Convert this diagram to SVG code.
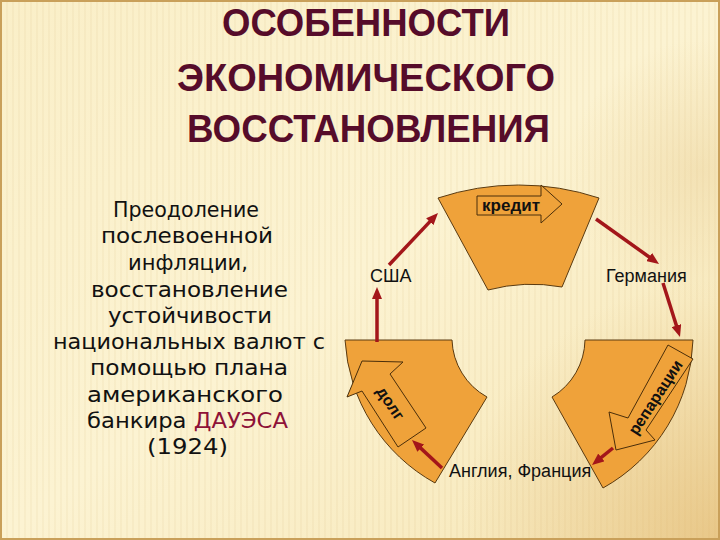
<svg xmlns="http://www.w3.org/2000/svg" width="720" height="540" viewBox="0 0 720 540">
<defs>
<linearGradient id="bg" x1="0" y1="0" x2="1" y2="1">
<stop offset="0" stop-color="#FAEFC8"/>
<stop offset="0.5" stop-color="#FCF3D2"/>
<stop offset="1" stop-color="#F6E6B6"/>
</linearGradient>
<radialGradient id="corner" cx="720" cy="540" r="260" gradientUnits="userSpaceOnUse">
<stop offset="0" stop-color="#DDAE62" stop-opacity="0.55"/>
<stop offset="1" stop-color="#DDAE62" stop-opacity="0"/>
</radialGradient>
<radialGradient id="corner2" cx="700" cy="170" r="130" gradientUnits="userSpaceOnUse">
<stop offset="0" stop-color="#E6C88C" stop-opacity="0.35"/>
<stop offset="1" stop-color="#E6C88C" stop-opacity="0"/>
</radialGradient>
<pattern id="stripes" width="6" height="10" patternUnits="userSpaceOnUse">
<rect x="0" y="0" width="2" height="10" fill="#C89A50" opacity="0.07"/>
</pattern>
<linearGradient id="hline" x1="0" y1="0" x2="1" y2="0">
<stop offset="0" stop-color="#D9A85A" stop-opacity="0"/>
<stop offset="0.15" stop-color="#D9A85A"/>
<stop offset="1" stop-color="#D9A85A"/>
</linearGradient>
<marker id="ah" markerWidth="12" markerHeight="10" refX="6" refY="5" orient="auto" markerUnits="userSpaceOnUse">
<path d="M0,0 L12,5 L0,10 z" fill="#A3161A"/>
</marker>
<style>
.seg{fill:#EFA23A;stroke:#5A3A10;stroke-width:1}
.barrow{fill:#EFA23A;stroke:#4A2E0A;stroke-width:1}
.conn{stroke:#A3161A;stroke-width:3.5;fill:none;marker-end:url(#ah)}
.lbl{font-family:"Liberation Sans",Arial,sans-serif;font-size:18px;fill:#111}
.atxt{font-family:"Liberation Sans",Arial,sans-serif;font-size:16px;font-weight:bold;fill:#111}
.title{font-family:"Liberation Sans",Arial,sans-serif;font-size:38px;font-weight:bold;fill:#560C2A}
.body{font-family:"DejaVu Sans","Liberation Sans",sans-serif;font-size:21px;fill:#111}
</style>
</defs>
<rect width="720" height="540" fill="url(#bg)"/>
<rect width="720" height="540" fill="url(#stripes)"/>
<rect width="720" height="540" fill="url(#corner)"/>
<rect width="720" height="540" fill="url(#corner2)"/>
<rect x="1" y="1" width="718" height="538" fill="none" stroke="#C9A05A" stroke-width="2"/>
<line x1="30" y1="81" x2="720" y2="81" stroke="url(#hline)" stroke-width="1.5"/>

<g id="title">
<text class="title" x="222" y="36" textLength="288" lengthAdjust="spacingAndGlyphs">ОСОБЕННОСТИ</text>
<text class="title" x="177" y="91" textLength="378" lengthAdjust="spacingAndGlyphs">ЭКОНОМИЧЕСКОГО</text>
<text class="title" x="187" y="142" textLength="363" lengthAdjust="spacingAndGlyphs">ВОССТАНОВЛЕНИЯ</text>
</g>

<g id="description">
<text class="body" x="113" y="217" textLength="146" lengthAdjust="spacingAndGlyphs">Преодоление</text>
<text class="body" x="101" y="243" textLength="172" lengthAdjust="spacingAndGlyphs">послевоенной</text>
<text class="body" x="128" y="270" textLength="120" lengthAdjust="spacingAndGlyphs">инфляции,</text>
<text class="body" x="91" y="297" textLength="197" lengthAdjust="spacingAndGlyphs">восстановление</text>
<text class="body" x="108" y="323" textLength="164" lengthAdjust="spacingAndGlyphs">устойчивости</text>
<text class="body" x="53" y="349" textLength="272" lengthAdjust="spacingAndGlyphs">национальных валют с</text>
<text class="body" x="90" y="375" textLength="198" lengthAdjust="spacingAndGlyphs">помощью плана</text>
<text class="body" x="87" y="402" textLength="196" lengthAdjust="spacingAndGlyphs">американского</text>
<text class="body" x="87" y="428" textLength="201" lengthAdjust="spacingAndGlyphs">банкира <tspan fill="#8E1238">ДАУЭСА</tspan></text>
<text class="body" x="147" y="454" textLength="81" lengthAdjust="spacingAndGlyphs">(1924)</text>
</g>

<g id="seg-top">
<path class="seg" d="M438,198 A256,256 0 0 1 599,198 L562,287 A170,170 0 0 0 488,290 Z"/>
<polygon class="barrow" points="477,196 541,196 541,185 562,204 541,223 541,215 477,215"/>
<text class="atxt" x="511" y="211" text-anchor="middle" textLength="58" lengthAdjust="spacingAndGlyphs">кредит</text>
</g>

<g id="seg-left">
<path class="seg" d="M345,340 L452,340 A68,68 0 0 0 487,397 L435,483 A175,175 0 0 1 345,340 Z"/>
<polygon class="barrow" points="362,361 403,362 390,374 426,428 398,447 362,391 347,397"/>
<text class="atxt" transform="translate(391,403) rotate(56)" text-anchor="middle" y="6" font-size="17">долг</text>
</g>

<g id="seg-right">
<path class="seg" d="M585,340 L693,340 A175,175 0 0 1 603,488 L552,397 A68,68 0 0 0 585,340 Z"/>
<polygon class="barrow" points="668,345 693,359 646,430 655,440 616,450 609,412 628,418"/>
<text class="atxt" transform="translate(655,397) rotate(-57)" text-anchor="middle" y="6">репарации</text>
</g>

<g id="usa"><text class="lbl" x="370" y="282">США</text></g>
<g id="germany"><text class="lbl" x="606" y="282">Германия</text></g>
<g id="uk-france"><text class="lbl" x="449" y="477">Англия, Франция</text></g>

<g id="connectors">
<line class="conn" x1="389" y1="265" x2="433.9" y2="217.4"/>
<line class="conn" x1="377" y1="342" x2="377" y2="293"/>
<line class="conn" x1="596" y1="219" x2="654.1" y2="260.5"/>
<line class="conn" x1="663" y1="283" x2="678.2" y2="331.3"/>
<line class="conn" x1="613" y1="448" x2="596.7" y2="461.2"/>
<line class="conn" x1="442" y1="468" x2="416.4" y2="444.1"/>
</g>
</svg>
